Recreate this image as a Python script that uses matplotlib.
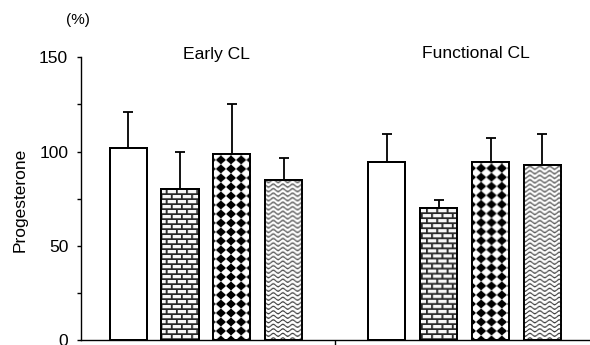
import numpy as np
import matplotlib
matplotlib.use("Agg")
import matplotlib.pyplot as plt

# Progesterone (% of control), mean and upper SD, for four treatments per stage
groups = ["Early CL", "Functional CL"]
early_means = [102, 80, 99, 85]
early_errs = [19, 20, 26, 11.5]
functional_means = [94.5, 70, 94.5, 93]
functional_errs = [15, 4.5, 12.5, 16.5]
y_ticks = [0, 50, 100, 150]

FONT = "Liberation Sans"

W, H, DPI = 590, 345, 100
fig = plt.figure(figsize=(W / DPI, H / DPI), dpi=DPI)
ax_l, ax_b, ax_w, ax_h = 81, 4.7, 508, 283  # axes box in pixels
ax = fig.add_axes([ax_l / W, ax_b / H, ax_w / W, ax_h / H])
ax.set_xlim(0, 2)
ax.set_ylim(0, 150)

# ---- fill textures, computed in screen-pixel space over the whole axes ----
R = 4
nx, ny = ax_w * R, ax_h * R
xx, yy = np.meshgrid((np.arange(nx) + 0.5) / R, (np.arange(ny) + 0.5) / R)


def downsample(a):
    return a.reshape(ny // R, R, nx // R, R).mean(axis=(1, 3))


def brick_texture():
    row = np.floor(yy / 5.0)
    h_line = (yy % 5.0) < 1.7
    xs = xx + (row % 2) * 5.0
    v_line = (xs % 10.0) < 1.7
    mortar = (h_line | v_line).astype(float)
    val = 0.97 - mortar * (0.97 - 0.15)
    return downsample(val)


def diamond_texture():
    px, py = 10.0, 9.0
    dx = (xx % px) - px / 2
    dy = (yy % py) - py / 2
    black = (np.abs(dx) / (px / 2) + np.abs(dy) / (py / 2)) > 1.0
    val = np.where(black, 0.0, 1.0)
    return downsample(val)


def wave_texture():
    period, lam, amp, thick = 4.5, 9.5, 1.4, 1.4
    d = (yy - amp * np.sin(2 * np.pi * xx / lam)) % period
    line = d < thick
    val = np.where(line, 0.25, 1.0)
    return downsample(val)


textures = [None, brick_texture(), diamond_texture(), wave_texture()]

# ---- bars ----
step, width = 0.2045, 0.146
centres = [0.492, 1.51]
offsets = (np.arange(4) - 1.5) * step

for gi, (means, errs) in enumerate([(early_means, early_errs),
                                    (functional_means, functional_errs)]):
    x = centres[gi] + offsets
    ax.errorbar(x, means, yerr=[np.zeros(4), errs], fmt="none",
                ecolor="black", elinewidth=1.3, capsize=3.9, capthick=1.3,
                zorder=1)
    bars = ax.bar(x, means, width=width, facecolor="white",
                  edgecolor="black", linewidth=1.4, zorder=2)
    for bar, tex in zip(bars, textures):
        if tex is None:
            continue
        im = ax.imshow(tex, cmap="gray", vmin=0, vmax=1, origin="lower",
                       extent=(0, 2, 0, 150), aspect="auto",
                       interpolation="antialiased", zorder=2.5)
        im.set_clip_path(bar)
    # outline on top of the texture
    ax.bar(x, means, width=width, facecolor="none", edgecolor="black",
           linewidth=1.4, zorder=3)

ax.set_xlim(0, 2)
ax.set_ylim(0, 150)

# ---- axes styling ----
for s in ("top", "right"):
    ax.spines[s].set_visible(False)
for s in ("left", "bottom"):
    ax.spines[s].set_linewidth(1.0)
    ax.spines[s].set_color("black")

ax.set_yticks(y_ticks)
ax.set_yticks([25, 75, 125], minor=True)
ax.set_yticklabels([str(v) for v in y_ticks], fontfamily=FONT, fontsize=12.5)
ax.tick_params(axis="y", which="both", direction="out", length=3.2,
               width=1.0, pad=6)
ax.set_xticks([1])
ax.set_xticklabels([""])
ax.tick_params(axis="x", direction="out", length=4, width=1.0)

# ---- texts ----
title_x = [216 / W, 476 / W]
for g, tx in zip(groups, title_x):
    fig.text(tx, 1 - 58.5 / H, g, ha="center", va="baseline",
             fontfamily=FONT, fontsize=12.6)

fig.text(78 / W, 1 - 20 / H, "(%)", ha="center", va="center",
         fontfamily=FONT, fontsize=11)
fig.text(20 / W, 1 - 200 / H, "Progesterone", ha="center", va="center",
         rotation=90, fontfamily=FONT, fontsize=12.5)

fig.savefig("out.png", dpi=DPI)
